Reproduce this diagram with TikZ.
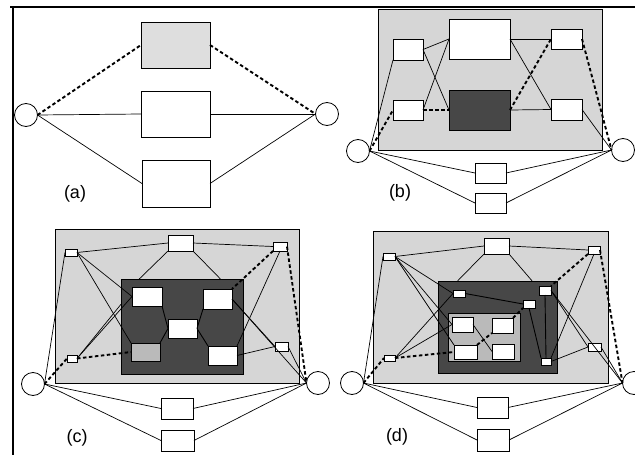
\documentclass[tikz,border=0pt]{standalone}
\usepackage{fontspec}
\setmainfont{Liberation Sans}
\newcommand\bx[6]{\node[#2,minimum width={(#5)-(#3)},minimum height={(#6)-(#4)}] (#1) at ({((#3)+(#5))/2},{((#4)+(#6))/2}) {};}
\tikzset{
  base/.style={draw=black,line width=0.8pt,inner sep=0pt,outer sep=0pt,rectangle},
  wbox/.style={base,fill=white},
  lbox/.style={base,fill=black!13},
  gbox/.style={base,fill=black!16},
  mbox/.style={base,fill=black!27},
  dbox/.style={base,fill=black!72},
  circ/.style={circle,draw=black,fill=white,line width=0.8pt,minimum size=23pt,inner sep=0pt,outer sep=0pt},
  sline/.style={line width=0.7pt},
  iline/.style={line width=0.9pt},
  dline/.style={line width=1.9pt,dash pattern=on 3.5pt off 2.5pt},
  frame/.style={line width=1.4pt},
  lbl/.style={font=\fontsize{18}{20}\selectfont,inner sep=0pt}
}
\begin{document}
\begin{tikzpicture}[x=1pt,y=-1pt]
\useasboundingbox (0,0) rectangle (635,455);
% frame
\coordinate (f1) at (10,7);
\coordinate (f2) at (635,7);
\coordinate (f3) at (13,7);
\coordinate (f4) at (13,455);
\draw[frame] (f1) -- (f2);
\draw[frame] (f3) -- (f4);

% ---------------- (a)
\node[circ] (La) at (26,115) {};
\node[circ] (Ra) at (327,114) {};
\bx{A1}{lbox}{141}{22}{210}{68}
\bx{A2}{wbox}{141}{91}{210}{137}
\bx{A3}{wbox}{142}{160}{210}{207}
\node[lbl] (la) at (75,194) {(a)};
\draw[dline] (La.east) -- (A1.west);
\draw[dline] (A1.east) -- (Ra.west);
\draw[sline] (La.east) -- (A2.west);
\draw[sline] (A2.east) -- (Ra.west);
\draw[sline] (La.east) -- (A3.west);
\draw[sline] (A3.east) -- (Ra.west);

% ---------------- (b)
\bx{Gb}{gbox}{378}{9}{602}{150}
\bx{B1}{wbox}{393}{39}{423}{60}
\bx{B2}{wbox}{393}{100}{423}{120}
\bx{B3}{wbox}{449}{19}{510}{59}
\bx{B4}{dbox}{449}{90}{510}{130}
\bx{B5}{wbox}{551}{29}{582}{49}
\bx{B6}{wbox}{551}{99}{582}{120}
\bx{B7}{wbox}{475}{163}{506}{183}
\bx{B8}{wbox}{475}{193}{506}{213}
\node[circ] (Lb) at (358,151) {};
\node[circ] (Rb) at (623,150) {};
\node[lbl] (lb) at (400,193) {(b)};
\draw[sline] (Lb.east) -- (B1.south west);
\draw[sline] (B1.east) -- (B3.west);
\draw[sline] (B1.east) -- (B4.west);
\draw[sline] (B2.east) -- (B3.west);
\draw[sline] (B3.east) -- (B5.west);
\draw[sline] (B3.east) -- (B6.west);
\draw[sline] (B4.east) -- (B6.west);
\draw[sline] (B6.east) -- (Rb.west);
\draw[sline] (Lb.east) -- (B7.west);
\draw[sline] (Lb.east) -- (B8.west);
\draw[sline] (B7.east) -- (Rb.west);
\draw[sline] (B8.east) -- (Rb.west);
\draw[dline] (Lb.east) -- (B2.west);
\draw[dline] (B2.east) -- (B4.west);
\draw[dline] (B4.east) -- (B5.west);
\draw[dline] (B5.east) -- (Rb.west);

% ---------------- (c)
\bx{Gc}{gbox}{55}{229}{299}{383}
\bx{C1}{wbox}{65}{249}{77}{256}
\bx{C2}{wbox}{168}{235}{193}{251}
\bx{C3}{wbox}{273}{242}{287}{251}
\bx{C4}{wbox}{67}{355}{77}{362}
\bx{C5}{wbox}{275}{342}{288}{351}
\bx{Dc}{dbox}{121}{279}{243}{374}
\bx{D1}{wbox}{132}{287}{162}{306}
\bx{D2}{wbox}{203}{289}{232}{309}
\bx{D3}{wbox}{168}{319}{197}{338}
\bx{D4}{mbox}{131}{343}{160}{361}
\bx{D5}{wbox}{208}{346}{237}{365}
\bx{C6}{wbox}{161}{398}{193}{419}
\bx{C7}{wbox}{161}{430}{194}{451}
\node[circ] (Lc) at (33,384) {};
\node[circ] (Rc) at (318,383) {};
\node[lbl] (lc) at (77,438) {(c)};
\draw[sline] (Lc.east) -- (C1.west);
\draw[sline] (C1.east) -- (C2.west);
\draw[sline] (C2.east) -- (C3.west);
\draw[sline] (C1.east) -- (D1.west);
\draw[sline] (C1.east) -- (D4.north west);
\draw[sline] (C4.east) -- (D1.west);
\draw[sline] (C4.east) -- (Dc.160);
\draw[sline] (C2.south west) -- (Dc.132);
\draw[sline] (C2.south east) -- (Dc.51);
\draw[sline] (C3.south) -- (D5.north east);
\draw[sline] (D2.east) -- (C5.west);
\draw[sline] (D2.east) -- (Rc.west);
\draw[sline] (D5.east) -- (C5.west);
\draw[sline] (C5.east) -- (Rc.west);
\draw[sline] (Lc.east) -- (C6.west);
\draw[sline] (Lc.east) -- (C7.west);
\draw[sline] (C6.east) -- (Rc.west);
\draw[sline] (C7.east) -- (Rc.west);
\draw[iline] (D1.south east) -- (D3.west);
\draw[iline] (D4.north east) -- (D3.west);
\draw[iline] (D2.south west) -- (D3.east);
\draw[iline] (D3.east) -- (D5.north west);
\draw[dline] (Lc.east) -- (C4.west);
\draw[dline] (C4.east) -- (D4.west);
\draw[dline] (C3.south west) -- (D2.north east);
\draw[dline] (C3.east) -- (Rc.west);

% ---------------- (d)
\bx{Gd}{gbox}{373}{231}{608}{383}
\bx{E1}{wbox}{383}{253}{395}{260}
\bx{E2}{wbox}{484}{238}{509}{254}
\bx{E3}{wbox}{588}{246}{600}{254}
\bx{E4}{wbox}{384}{355}{395}{361}
\bx{E5}{wbox}{588}{343}{601}{351}
\bx{Dd}{dbox}{438}{281}{557}{373}
\bx{Hd}{mbox}{448}{313}{520}{361}
\bx{F1}{wbox}{453}{290}{465}{297}
\bx{F2}{wbox}{523}{300}{535}{308}
\bx{F3}{wbox}{539}{286}{551}{295}
\bx{F4}{wbox}{541}{358}{551}{365}
\bx{G1}{wbox}{452}{317}{473}{332}
\bx{G2}{wbox}{492}{318}{513}{333}
\bx{G3}{wbox}{454}{345}{477}{359}
\bx{G4}{wbox}{492}{344}{514}{359}
\bx{E6}{wbox}{477}{397}{508}{418}
\bx{E7}{wbox}{477}{429}{509}{451}
\node[circ] (Ld) at (352,383) {};
\node[circ] (Rd) at (634,383) {};
\node[lbl] (ld) at (397,437) {(d)};
\draw[sline] (Ld.east) -- (E1.west);
\draw[sline] (E1.east) -- (E2.west);
\draw[sline] (E2.east) -- (E3.west);
\draw[sline] (E2.south west) -- (Dd.131);
\draw[sline] (E2.south east) -- (Dd.53);
\draw[sline] (E1.east) -- (F1.west);
\draw[sline] (E1.east) -- (G1.west);
\draw[sline] (E1.east) -- (G3.north west);
\draw[sline] (E4.east) -- (F1.west);
\draw[sline] (E4.east) -- (G1.west);
\draw[iline] (F1.east) -- (F2.west);
\draw[iline] (F2.south) -- (F4.north west);
\draw[iline] (F3.south) -- (F4.north);
\draw[sline] (G1.east) -- (G4.west);
\draw[sline] (E3.south) -- (F4.north east);
\draw[sline] (F3.east) -- (E5.west);
\draw[sline] (F3.east) -- (Rd.west);
\draw[sline] (F4.east) -- (E5.west);
\draw[sline] (E5.east) -- (Rd.west);
\draw[sline] (Ld.east) -- (E6.west);
\draw[sline] (Ld.east) -- (E7.west);
\draw[sline] (E6.east) -- (Rd.west);
\draw[sline] (E7.east) -- (Rd.west);
\draw[dline] (Ld.east) -- (E4.west);
\draw[dline] (E4.east) -- (G3.west);
\draw[dline] (G3.north east) -- (G2.south west);
\draw[dline] (G2.north east) -- (F2.south west);
\draw[dline] (E3.south west) -- (F3.north east);
\draw[dline] (E3.east) -- (Rd.west);
\end{tikzpicture}
\end{document}
